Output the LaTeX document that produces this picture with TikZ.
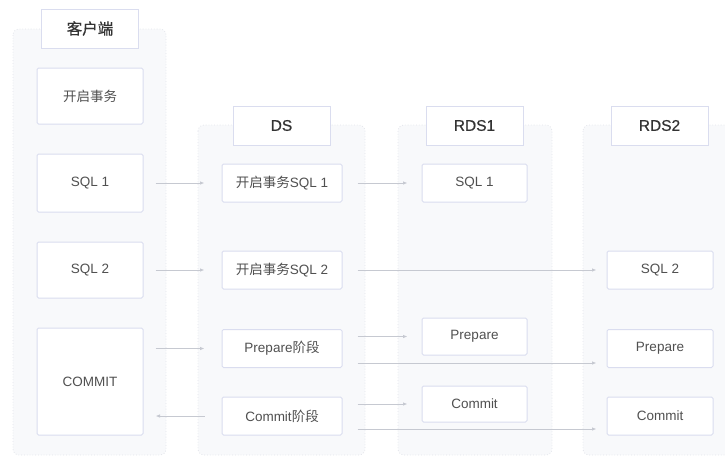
\documentclass[tikz,border=0pt]{standalone}
\usepackage{fontspec}
\setmainfont{Liberation Sans}
\newfontfamily\cjk{Noto Sans CJK SC}
\newfontfamily\hdrfont[FakeBold=0.6]{Liberation Sans}
\newfontfamily\hdrcjk[FakeBold=0.7]{Noto Sans CJK SC}
\usetikzlibrary{arrows.meta}
\definecolor{boxline}{HTML}{DADDEF}
\definecolor{panelfill}{HTML}{F8F9FB}
\definecolor{paneline}{HTML}{E2E4EA}
\definecolor{arrowc}{HTML}{C6C9D1}
\definecolor{bodytext}{HTML}{505050}
\definecolor{headtext}{HTML}{333333}
\tikzset{
  panel/.style={fill=panelfill, draw=paneline, dotted, line width=0.8pt, rounded corners=6pt},
  bx/.style={draw=boxline, fill=white, line width=1pt, rounded corners=1.5pt, font=\fontsize{13.5}{15}\selectfont, text=bodytext, inner sep=0pt},
  hd/.style={draw=boxline, fill=white, line width=1pt, minimum width=97pt, minimum height=39pt, font=\hdrfont\fontsize{15.5}{17}\selectfont, text=headtext, inner sep=0pt},
  arr/.style={draw=arrowc, line width=0.9pt, -{Latex[length=4.5pt,width=3.5pt]}},
}
\begin{document}
\begin{tikzpicture}[x=1pt,y=-1pt]
\useasboundingbox (0,0) rectangle (725,456);
\clip (0,0) rectangle (725,456);
% panels
\draw[panel] (13,29) rectangle (166,455);
\draw[panel] (198,125) rectangle (365,455);
\draw[panel] (398,125) rectangle (552,455);
\draw[panel] (583,125) rectangle (745,455);
% headers
\node[hd] (hc) at (90,28.5) {\hdrcjk 客户端};
\node[hd] (hd) at (281.5,125.5) {DS};
\node[hd] (hr1) at (474.5,125.5) {RDS1};
\node[hd] (hr2) at (659.5,125.5) {RDS2};
% client
\node[bx, minimum width=106pt, minimum height=56pt] (c0) at (90,96) {\cjk 开启事务};
\node[bx, minimum width=106pt, minimum height=58pt] (c1) at (90,183) {SQL 1};
\node[bx, minimum width=106pt, minimum height=56pt] (c2) at (90,270) {SQL 2};
\node[bx, minimum width=106pt, minimum height=107pt] (c3) at (90,381.5) {COMMIT};
% DS
\node[bx, minimum width=120pt, minimum height=38pt] (d1) at (282,183) {{\cjk 开启事务}SQL 1};
\node[bx, minimum width=120pt, minimum height=38pt] (d2) at (282,270) {{\cjk 开启事务}SQL 2};
\node[bx, minimum width=120pt, minimum height=38pt] (d3) at (282,348.5) {Prepare{\cjk 阶段}};
\node[bx, minimum width=120pt, minimum height=38pt] (d4) at (282,416) {Commit{\cjk 阶段}};
% RDS1
\node[bx, minimum width=105pt, minimum height=38pt] (r1) at (474.5,183) {SQL 1};
\node[bx, minimum width=105pt, minimum height=37pt] (rp) at (474.5,336.5) {Prepare};
\node[bx, minimum width=105pt, minimum height=36pt] (rc) at (474.5,404) {Commit};
% RDS2
\node[bx, minimum width=106pt, minimum height=38pt] (s2) at (660,270) {SQL 2};
\node[bx, minimum width=106pt, minimum height=38pt] (sp) at (660,348.5) {Prepare};
\node[bx, minimum width=106pt, minimum height=38pt] (sc) at (660,416) {Commit};
% arrows client -> DS
\draw[arr, shorten <=12pt, shorten >=17pt] (c1.east) -- (d1.west);
\draw[arr, shorten <=12pt, shorten >=17pt] (c2.east) -- (d2.west);
\draw[arr, shorten <=12pt, shorten >=17pt] (c3.east |- d3.west) -- (d3.west);
\draw[arr, shorten <=17pt, shorten >=12pt] (d4.west) -- (c3.east |- d4.west);
% DS -> RDS
\draw[arr, shorten <=15pt, shorten >=14pt] (d1.east) -- (r1.west);
\draw[arr, shorten <=15pt, shorten >=10pt] (d2.east) -- (s2.west);
\draw[arr, shorten <=15pt, shorten >=14pt] (d3.east |- rp.west) -- (rp.west);
\draw[arr, shorten <=15pt, shorten >=10pt] ([yshift=-14.5pt]d3.east) -- ([yshift=-14.5pt]d3.east -| sp.west);
\draw[arr, shorten <=15pt, shorten >=14pt] (d4.east |- rc.west) -- (rc.west);
\draw[arr, shorten <=15pt, shorten >=10pt] ([yshift=-13pt]d4.east) -- ([yshift=-13pt]d4.east -| sc.west);
\end{tikzpicture}
\end{document}
